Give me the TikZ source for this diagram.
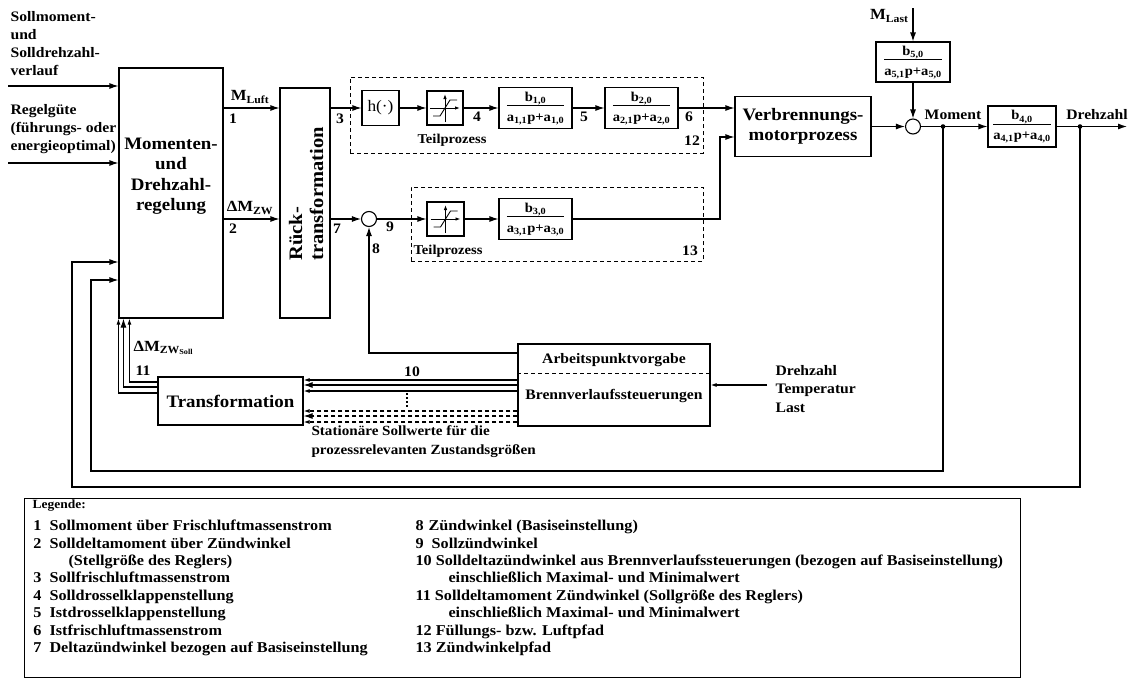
\documentclass[tikz,border=0pt]{standalone}
\usepackage{fontspec}
\setmainfont{Liberation Serif}[FakeStretch=1.08]
\usetikzlibrary{arrows.meta,calc}
\setlength{\arrayrulewidth}{0.9pt}
% transfer function b/(a1 p + a0)
\newcommand{\ptf}[3]{\begin{tabular}{@{}c@{}}b\textsubscript{#1}\\[-1pt]\hline\rule{0pt}{15pt}a\textsubscript{#2}p+a\textsubscript{#3}\end{tabular}}
\begin{document}
\begin{tikzpicture}[x=1pt,y=-1pt,line width=1.1pt,
  every node/.style={font=\bfseries\fontsize{14.5}{18}\selectfont},
  blk/.style={draw,rectangle,inner sep=0pt,line width=1.1pt},
  tfb/.style={blk,font=\bfseries\fontsize{13.5}{16}\selectfont},
  big/.style={font=\bfseries\fontsize{17.5}{20.5}\selectfont},
  sig/.style={font=\bfseries\fontsize{15.5}{18}\selectfont,inner sep=0pt},
  small/.style={font=\bfseries\fontsize{13.5}{16}\selectfont,inner sep=0pt},
  sumc/.style={draw,circle,minimum size=15pt,inner sep=0pt},
  arr/.style={-{Latex[length=9pt,width=6pt]}},
  sarr/.style={-{Latex[length=6pt,width=4pt]}},
  dbox/.style={draw,dash pattern=on 4pt off 3pt,line width=1pt,inner sep=0pt},
  lbl/.style={inner sep=0pt},
  leg/.style={font=\bfseries\fontsize{15}{17}\selectfont,inner sep=0pt,anchor=base west}]
\useasboundingbox (0,0) rectangle (1129,680);

% ---- controller and back transformation
\node[blk,minimum width=104pt,minimum height=250pt] (A) at (171,193) {};
\node[big,align=center,inner sep=0pt] (Atxt) at (171,176) {Momenten-\\und\\Drehzahl-\\regelung};
\node[blk,minimum width=50pt,minimum height=230pt] (R) at (305,203) {};
\node[align=left,rotate=90,inner sep=0pt,font=\bfseries\fontsize{19}{21}\selectfont] (Rtxt) at (306,194) {Rück-\\transformation};

% ---- external inputs
\coordinate (in1) at (8,86);
\coordinate (in2) at (8,163);
\draw[arr] (in1) -- (in1 -| A.west);
\draw[arr] (in2) -- (in2 -| A.west);
\node[anchor=north west,align=left,inner sep=0pt] (tin1) at (10,11) {Sollmoment-\\und\\Solldrehzahl-\\verlauf};
\node[anchor=north west,align=left,inner sep=0pt] (tin2) at (10,104) {Regelgüte\\(führungs- oder\\energieoptimal)};

% ---- air path
\node[dbox,minimum width=353pt,minimum height=76pt] (P12) at (526.5,115) {};
\node[blk,minimum width=37pt,minimum height=35pt,font=\mdseries\fontsize{16}{18}\selectfont] (h) at (380.5,108) {h(·)};
\node[blk,minimum width=36pt,minimum height=34pt] (S1) at (445,108) {};
\node[tfb,minimum width=73pt,minimum height=41pt] (B1) at (535.5,108) {\ptf{1,0}{1,1}{1,0}};
\node[tfb,minimum width=73pt,minimum height=41pt] (B2) at (641.5,108) {\ptf{2,0}{2,1}{2,0}};
\node[small] (t12) at (452,140) {Teilprozess};
\node[lbl] (n12) at (692,141) {12};

% ---- ignition path
\node[dbox,minimum width=292pt,minimum height=74pt] (P13) at (557,224) {};
\node[sumc] (C2) at (369,219) {};
\node[blk,minimum width=37pt,minimum height=34pt] (S2) at (445.5,219) {};
\node[tfb,minimum width=73pt,minimum height=41pt] (B3) at (535.5,219) {\ptf{3,0}{3,1}{3,0}};
\node[small] (t13) at (448,251) {Teilprozess};
\node[lbl] (n13) at (690,251) {13};

% saturation symbols
\foreach \s in {S1,S2}{
  \begin{scope}[shift={(\s)},line width=0.9pt]
    \draw[-{Latex[length=5pt,width=3.5pt]}] (0,14) -- (0,-14);
    \draw[-{Latex[length=5pt,width=3.5pt]}] (-15,0) -- (15,0);
    \draw (-12,8) -- (-5,8) -- (5,-8) -- (12,-8);
  \end{scope}}

% ---- engine and load
\node[blk,big,minimum width=136pt,minimum height=60pt,align=center] (V) at (803,126.5) {Verbrennungs-\\motorprozess};
\node[sumc] (C1) at (913,126.5) {};
\node[tfb,minimum width=74pt,minimum height=40pt] (B5) at (913,62) {\ptf{5,0}{5,1}{5,0}};
\node[tfb,minimum width=68pt,minimum height=41pt] (B4) at (1022,126.5) {\ptf{4,0}{4,1}{4,0}};
\coordinate (mlast) at (913,8);
\coordinate (out) at (1127,126.5);
\coordinate (dM) at (943,126.5);
\coordinate (dD) at (1080,126.5);

% ---- set point generation and transformation
\node[blk,minimum width=192pt,minimum height=82pt] (B) at (614,385) {};
\draw[line width=1pt,dash pattern=on 4pt off 3pt] ([yshift=12pt]B.west) -- ([yshift=12pt]B.east);
\node[lbl] (Bt1) at (614,360) {Arbeitspunktvorgabe};
\node[lbl] (Bt2) at (614,396) {Brennverlaufssteuerungen};
\node[blk,big,minimum width=145pt,minimum height=48pt] (T) at (230.5,401) {Transformation};
\coordinate (dtl) at (767,385);
\node[anchor=west,align=left,inner sep=0pt,font=\bfseries\fontsize{14.5}{18.5}\selectfont] (ops) at (775,389) {Drehzahl\\Temperatur\\Last};

% ---- signal connections
\draw[arr] (A.east |- h) -- (R.west |- h);
\draw[arr] (R.east |- h) -- (h);
\draw[arr] (h) -- (S1);
\draw[arr] (S1) -- (B1);
\draw[arr] (B1) -- (B2);
\draw[arr] (B2) -- (B2 -| V.west);
\draw[arr] (A.east |- C2) -- (R.west |- C2);
\draw[arr] (R.east |- C2) -- (C2);
\draw[arr] (C2) -- (S2);
\draw[arr] (S2) -- (B3);
\draw[arr] (B3) -| (720,137) -- ([yshift=-10.5pt]V.west);
\draw[arr] (mlast) -- (B5);
\draw[arr] (B5) -- (C1);
\draw[arr] (V) -- (C1);
\draw[arr] (C1) -- (B4);
\draw[arr] (B4) -- (out);
\fill (dM) circle (2.3pt);
\fill (dD) circle (2.3pt);
\draw[arr] (dM) |- (91,471) |- ([yshift=-87pt]A.west);
\draw[arr] (dD) |- (72,487) |- ([yshift=-69pt]A.west);
\draw[arr] ([yshift=32pt]B.west) -| (C2.south);
\draw[sarr] (dtl) -- (B.east);

% set values 10 and stationary set points
\draw[sarr] ([yshift=5pt]B.west) -- ([yshift=21pt]T.east);
\draw[arr] (B.west) -- ([yshift=16pt]T.east);
\draw[sarr] ([yshift=-6pt]B.west) -- ([yshift=10pt]T.east);
\begin{scope}[dash pattern=on 4pt off 3pt]
\draw[sarr] ([yshift=-26pt]B.west) -- ([yshift=-10pt]T.east);
\draw[arr] ([yshift=-31pt]B.west) -- ([yshift=-15pt]T.east);
\draw[sarr] ([yshift=-37pt]B.west) -- ([yshift=-21pt]T.east);
\end{scope}
\draw[line width=1.4pt,dash pattern=on 2pt off 2pt] (407,393) -- (407,407);

% transformation outputs 11
\draw[sarr] ([yshift=19pt]T.west) -| ([xshift=11pt]A.south west);
\draw[arr] ([yshift=14pt]T.west) -| ([xshift=5pt]A.south west);
\draw[sarr] ([yshift=8pt]T.west) -| (A.south west);

% ---- signal labels
\node[sig] (lML) at (250,97) {M\textsubscript{Luft}};
\node[sig] (lDM) at (250,208) {ΔM\textsubscript{ZW}};
\node[sig,anchor=west] (lDMS) at (133,348) {ΔM\textsubscript{ZW\textsubscript{Soll}}};
\node[sig,anchor=east] (lMLast) at (909,16) {M\textsubscript{Last}};
\node[lbl] (l1) at (233,119) {1};
\node[lbl] (l2) at (233,229) {2};
\node[lbl] (l3) at (340,119) {3};
\node[lbl] (l4) at (477,117) {4};
\node[lbl] (l5) at (584,117) {5};
\node[lbl] (l6) at (689,117) {6};
\node[lbl] (l7) at (337,229) {7};
\node[lbl] (l8) at (376,249) {8};
\node[lbl] (l9) at (390,227) {9};
\node[lbl] (l10) at (412,372) {10};
\node[lbl,anchor=west] (l11) at (135,371) {11};
\node[lbl] (lMom) at (953,115) {Moment};
\node[lbl] (lDrz) at (1097,115) {Drehzahl};
\node[anchor=north west,align=left,inner sep=0pt,font=\bfseries\fontsize{14}{19}\selectfont] (stat) at (311,425) {Stationäre Sollwerte für die\\prozessrelevanten Zustandsgrößen};

% ---- legend
\node[draw,line width=1pt,minimum width=996pt,minimum height=179pt,inner sep=0pt] (L) at (522,587.5) {};
\node[leg,font=\bfseries\fontsize{12.5}{14}\selectfont] (Lh) at (32,508) {Legende:};
\newcommand{\lnum}[1]{\makebox[10pt][r]{#1}\hspace{8pt}}
\node[leg] at (31,530.5) {\lnum{1}Sollmoment über Frischluftmassenstrom};
\node[leg] at (31,548) {\lnum{2}Solldeltamoment über Zündwinkel};
\node[leg] at (68,565.5) {(Stellgröße des Reglers)};
\node[leg] at (31,582.5) {\lnum{3}Sollfrischluftmassenstrom};
\node[leg] at (31,600) {\lnum{4}Solldrosselklappenstellung};
\node[leg] at (31,617.5) {\lnum{5}Istdrosselklappenstellung};
\node[leg] at (31,635) {\lnum{6}Istfrischluftmassenstrom};
\node[leg] at (31,652.5) {\lnum{7}Deltazündwinkel bezogen auf Basiseinstellung};
\node[leg] at (415,530.5) {8\hspace{5pt}Zündwinkel (Basiseinstellung)};
\node[leg] at (415,548) {9\hspace{8pt}Sollzündwinkel};
\node[leg] at (415,565.5) {10 Solldeltazündwinkel aus Brennverlaufssteuerungen (bezogen auf Basiseinstellung)};
\node[leg] at (448,582.5) {einschließlich Maximal- und Minimalwert};
\node[leg] at (415,600) {11 Solldeltamoment Zündwinkel (Sollgröße des Reglers)};
\node[leg] at (448,617.5) {einschließlich Maximal- und Minimalwert};
\node[leg] at (415,635) {12 Füllungs- bzw. Luftpfad};
\node[leg] at (415,652.5) {13 Zündwinkelpfad};
\end{tikzpicture}
\end{document}
